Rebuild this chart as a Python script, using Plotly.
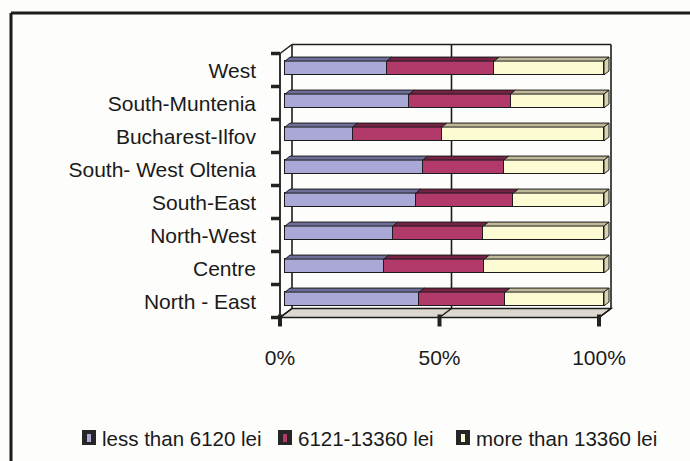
import plotly.graph_objects as go

# Share of households by annual income band, per development region (%)
regions = ["North - East", "Centre", "North-West", "South-East",
           "South- West Oltenia", "Bucharest-Ilfov", "South-Muntenia", "West"]
low_income = [42.1, 31.0, 33.8, 41.0, 43.2, 21.2, 39.0, 31.9]
mid_income = [26.9, 31.5, 28.4, 30.6, 25.4, 28.0, 31.7, 33.7]
high_income = [31.0, 37.5, 37.8, 28.4, 31.4, 50.8, 29.3, 34.4]
series_names = ["less than 6120 lei", "6121-13360 lei", "more than 13360 lei"]
x_ticks = [0, 50, 100]
x_tick_text = ["0%", "50%", "100%"]

front_colors = ["#a9a8d6", "#b23a6b", "#fdfbd3"]
top_colors = ["#6f6e9b", "#762244", "#bfb99a"]
side_color = "#d8d4b2"
ink = "#1c1c1c"

W, H = 690, 461
PL, PR, PT, PB = 270, 625, 38, 330          # plot area in page pixels
X_ORIGIN, X_SCALE = 285, 3.19               # px of 0 %, px per %
Y_ORIGIN, Y_SCALE = 299, 33                 # px of first category, px per category
BAR_W = 0.42

x_range = [(PL - X_ORIGIN) / X_SCALE, (PR - X_ORIGIN) / X_SCALE]
y_range = [-(PB - Y_ORIGIN) / Y_SCALE, (Y_ORIGIN - PT) / Y_SCALE]


def X(v, dx=0.0):
    """x in data units, moved dx pixels to the right"""
    return v + dx / X_SCALE


def Y(v, dy=0.0):
    """y in data units, moved dy pixels upward"""
    return v + dy / Y_SCALE


def px(xp, yp):
    """page pixels -> paper coordinates"""
    return (xp - PL) / (PR - PL), (PB - yp) / (PB - PT)


def path(points):
    return "M " + " L ".join(f"{a:.4f},{b:.4f}" for a, b in points) + " Z"


idx = list(range(len(regions)))
fig = go.Figure()
for vals, name, col in zip([low_income, mid_income, high_income], series_names, front_colors):
    fig.add_trace(go.Bar(
        y=idx, x=vals, orientation="h", name=name, width=BAR_W,
        marker=dict(color=col, line=dict(color=ink, width=1.3)),
        showlegend=False, hoverinfo="x+name",
    ))

shapes = []
n = len(regions)
FRONT = (-5, -2)   # front plane offset from the bar plane (px right, px up)
BACK = (7, 7)      # back wall offset from the bar plane
DEPTH = (5, 4)     # bar thickness
bottom, top = -0.5, n - 0.5

# floor
shapes.append(dict(type="path", xref="x", yref="y", layer="below",
                   path=path([(X(0, FRONT[0]), Y(bottom, FRONT[1])),
                              (X(100, FRONT[0]), Y(bottom, FRONT[1])),
                              (X(100, BACK[0]), Y(bottom, BACK[1])),
                              (X(0, BACK[0]), Y(bottom, BACK[1]))]),
                   fillcolor="#dcd8cf", line=dict(color=ink, width=1.5)))
# back wall frame and gridlines
for v in x_ticks:
    shapes.append(dict(type="line", xref="x", yref="y", layer="below",
                       x0=X(v, BACK[0]), x1=X(v, BACK[0]),
                       y0=Y(bottom, BACK[1]), y1=Y(top, BACK[1]),
                       line=dict(color=ink, width=1.6)))
    shapes.append(dict(type="line", xref="x", yref="y", layer="below",
                       x0=X(v, FRONT[0]), x1=X(v, BACK[0]),
                       y0=Y(bottom, FRONT[1]), y1=Y(bottom, BACK[1]),
                       line=dict(color=ink, width=1.5)))
shapes.append(dict(type="line", xref="x", yref="y", layer="below",
                   x0=X(0, BACK[0]), x1=X(100, BACK[0]),
                   y0=Y(top, BACK[1]), y1=Y(top, BACK[1]),
                   line=dict(color=ink, width=1.6)))
# left wall edges
shapes.append(dict(type="line", xref="x", yref="y", layer="below",
                   x0=X(0, FRONT[0]), x1=X(0, FRONT[0]),
                   y0=Y(bottom, FRONT[1]), y1=Y(top, FRONT[1]),
                   line=dict(color=ink, width=1.8)))
shapes.append(dict(type="line", xref="x", yref="y", layer="below",
                   x0=X(0, FRONT[0]), x1=X(0, BACK[0]),
                   y0=Y(top, FRONT[1]), y1=Y(top, BACK[1]),
                   line=dict(color=ink, width=1.5)))
# category tick marks
for k in range(n + 1):
    yk = Y(k - 0.5, FRONT[1])
    shapes.append(dict(type="line", xref="x", yref="y",
                       x0=X(0, FRONT[0] - 9), x1=X(0, FRONT[0]), y0=yk, y1=yk,
                       line=dict(color="#222222", width=3.5)))
# value tick marks
for v in x_ticks:
    shapes.append(dict(type="line", xref="x", yref="y",
                       x0=X(v, FRONT[0]), x1=X(v, FRONT[0]),
                       y0=Y(bottom, FRONT[1] + 3), y1=Y(bottom, FRONT[1] - 9),
                       line=dict(color="#222222", width=4)))

# bar tops and end caps
for i in idx:
    start = 0.0
    for vals, tcol in zip([low_income, mid_income, high_income], top_colors):
        end = start + vals[i]
        yt = i + BAR_W / 2
        shapes.append(dict(type="path", xref="x", yref="y",
                           path=path([(X(start), Y(yt)), (X(end), Y(yt)),
                                      (X(end, DEPTH[0]), Y(yt, DEPTH[1])),
                                      (X(start, DEPTH[0]), Y(yt, DEPTH[1]))]),
                           fillcolor=tcol, line=dict(color=ink, width=1)))
        start = end
    yb, yt = i - BAR_W / 2, i + BAR_W / 2
    shapes.append(dict(type="path", xref="x", yref="y",
                       path=path([(X(start), Y(yb)), (X(start), Y(yt)),
                                  (X(start, DEPTH[0]), Y(yt, DEPTH[1])),
                                  (X(start, DEPTH[0]), Y(yb, DEPTH[1]))]),
                       fillcolor=side_color, line=dict(color=ink, width=1)))

# page frame
fx0, fy0 = px(11, 13)
fx1, fy1 = px(700, 470)
shapes.append(dict(type="line", xref="paper", yref="paper", x0=fx0, x1=fx1, y0=fy0, y1=fy0,
                   line=dict(color=ink, width=3)))
shapes.append(dict(type="line", xref="paper", yref="paper", x0=fx0, x1=fx0, y0=fy0, y1=fy1,
                   line=dict(color=ink, width=3)))

# legend keys
annotations = []
legend_y = 438
key_x = [82, 278, 456]
text_x = [100, 296, 474]
for kx, tx, col, name in zip(key_x, text_x, front_colors, series_names):
    ax0, ay0 = px(kx, legend_y - 8)
    ax1, ay1 = px(kx + 14, legend_y + 7)
    shapes.append(dict(type="rect", xref="paper", yref="paper", x0=ax0, x1=ax1, y0=ay0, y1=ay1,
                       fillcolor="#262626", line=dict(width=0)))
    bx0, by0 = px(kx + 5, legend_y - 4)
    bx1, by1 = px(kx + 9, legend_y + 4)
    shapes.append(dict(type="rect", xref="paper", yref="paper", x0=bx0, x1=bx1, y0=by0, y1=by1,
                       fillcolor=col, line=dict(width=0)))
    tx_p, ty_p = px(tx, legend_y)
    annotations.append(dict(xref="paper", yref="paper", x=tx_p, y=ty_p, text=name,
                            showarrow=False, xanchor="left", yanchor="middle",
                            font=dict(size=20.5, color="#1a1a1a")))

fig.update_layout(
    width=W, height=H,
    margin=dict(l=PL, r=W - PR, t=PT, b=H - PB, pad=0),
    paper_bgcolor="#fdfdfb", plot_bgcolor="#fdfdfb",
    barmode="stack", bargap=0,
    font=dict(family="Liberation Sans, Arial, sans-serif", size=21, color="#1a1a1a"),
    xaxis=dict(range=x_range, tickvals=x_ticks, ticktext=x_tick_text,
               showgrid=False, zeroline=False, showline=False, ticks="",
               ticklabelshift=-5, ticklabelstandoff=13, fixedrange=True),
    yaxis=dict(range=y_range, tickvals=idx, ticktext=regions,
               showgrid=False, zeroline=False, showline=False, ticks="",
               ticklabelshift=3, ticklabelstandoff=13, fixedrange=True),
    shapes=shapes, annotations=annotations,
    showlegend=False,
)

fig.write_html("out.html")
